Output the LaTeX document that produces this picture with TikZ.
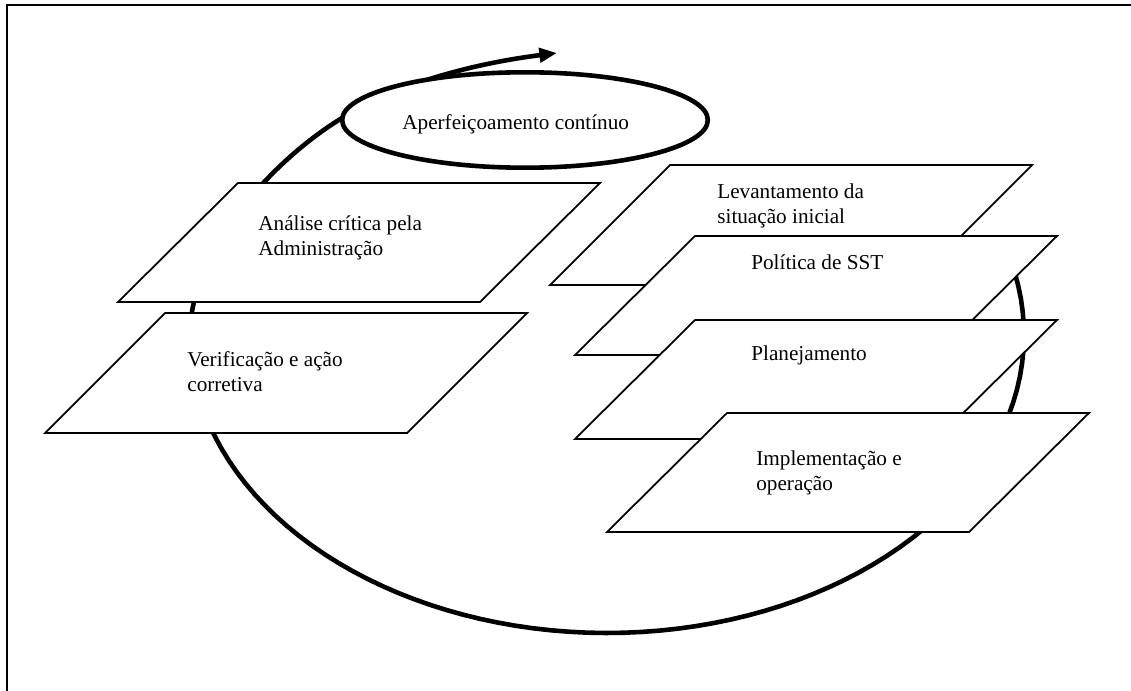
\documentclass[tikz,border=0pt]{standalone}
\usepackage{fontspec}
\setmainfont{Liberation Serif}
\usetikzlibrary{shapes.geometric}
\usetikzlibrary{arrows.meta}

\begin{document}
\begin{tikzpicture}[x=0.566pt, y=-0.566pt,
    plano/.style={draw, fill=white, line width=1pt},
    rotulo/.style={align=left, anchor=base west, inner sep=0pt,
        font=\fontsize{12pt}{13.9pt}\selectfont},
    elipse/.style={ellipse, draw, fill=white, line width=2.6pt,
        minimum width=207pt, minimum height=54pt},
    laco/.style={line width=2.6pt, line join=round}]
    \useasboundingbox (0,0) rectangle (1131,691);
    % moldura
    \draw[line width=1.3pt] (7,691) -- (7,5) -- (1131,5);
    % ciclo
    \draw[laco, -{Triangle[length=10pt, width=8pt]}]
        plot[domain=-17:180, samples=80] ({607+417*cos(\x)}, {335+298*sin(\x)})
        .. controls (190,252) and (270,162) .. (342,118)
        .. controls (395,85) and (470,64) .. (557,53);
    \node[elipse] (ciclo) at (525,120) {};
    \node[rotulo] (aperf) at (402,130) {Aperfeiçoamento contínuo};
    % lado esquerdo (base = ultima linha)
    \draw[plano] (118,302) -- ++(362,0) -- ++(120,-119) -- ++(-362,0) -- cycle;
    \node[rotulo] (analise) at (258,255.5) {Análise crítica pela\\Administração};
    \draw[plano] (45,433) -- ++(362,0) -- ++(120,-120) -- ++(-362,0) -- cycle;
    \node[rotulo] (verif) at (187,391) {Verificação e ação\\corretiva};
    % lado direito
    \draw[plano] (550,285) -- ++(362,0) -- ++(120,-120) -- ++(-362,0) -- cycle;
    \node[rotulo] (levant) at (717,223) {Levantamento da\\situação inicial};
    \draw[plano] (575,355) -- ++(362,0) -- ++(120,-119) -- ++(-362,0) -- cycle;
    \node[rotulo] (politica) at (751,270) {Política de SST};
    \draw[plano] (575,439) -- ++(362,0) -- ++(120,-119) -- ++(-362,0) -- cycle;
    \node[rotulo] (planej) at (751,360) {Planejamento};
    \draw[plano] (607,532) -- ++(362,0) -- ++(120,-119) -- ++(-362,0) -- cycle;
    \node[rotulo] (implem) at (756,490) {Implementação e\\operação};
\end{tikzpicture}
\end{document}
